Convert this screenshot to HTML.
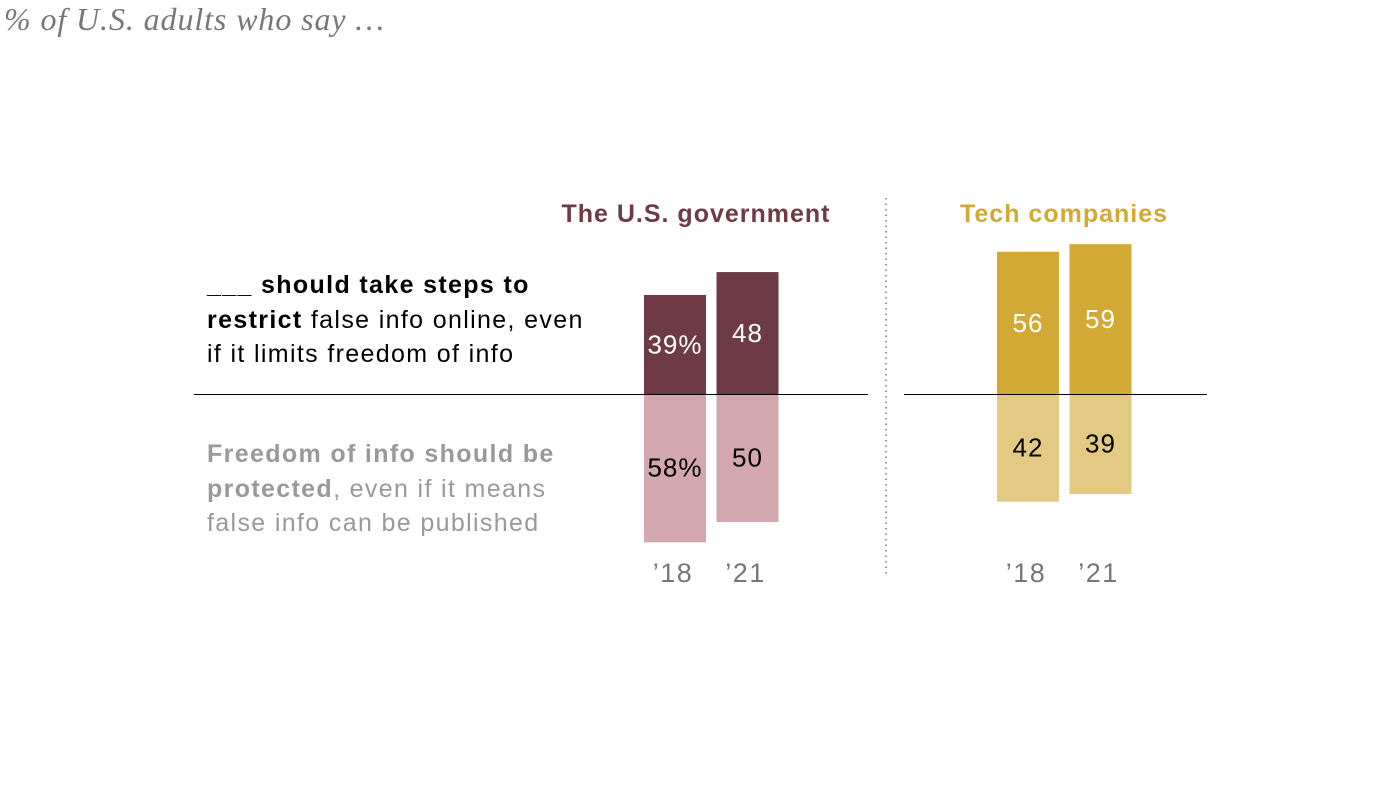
<!DOCTYPE html>
<html><head><meta charset="utf-8"><style>
body{margin:0;width:1400px;height:789px;background:#fff;overflow:hidden;position:relative;font-family:"Liberation Sans",sans-serif}
.t{position:absolute;white-space:nowrap}
</style></head><body>
<div class="t" style="left:4px;top:1px;font-family:'Liberation Serif',serif;font-style:italic;font-size:32px;letter-spacing:0.9px;color:#777">% of U.S. adults who say …</div>
<div class="t" style="left:207px;top:268px;font-size:25px;letter-spacing:1.35px;line-height:34.5px;color:#000"><b>___ should take steps to<br>restrict</b> false info online, even<br>if it limits freedom of info</div>
<div class="t" style="left:207px;top:437px;font-size:25px;letter-spacing:1.35px;line-height:34.5px;color:#999"><b>Freedom of info should be<br>protected</b>, even if it means<br>false info can be published</div>
<svg id="c" width="1400" height="789" style="position:absolute;left:0;top:0"></svg>
<script>
const groups=["The U.S. government","Tech companies"];
const years=["’18","’21"];
const restrictVals=[[39,48],[56,59]];
const freedomVals=[[58,50],[42,39]];
const restrictLabels=[["39%","48"],["56","59"]];
const freedomLabels=[["58%","50"],["42","39"]];
const ns="http://www.w3.org/2000/svg",svg=document.getElementById('c');
const base=394,k=2.54,bw=62;
const groupX=[644,997],gap=72.5;
const titleX=[696,1064];
const topC=["#6e3a46","#d2a934"],botC=["#d2a8ae","#e3ca82"],titleC=["#6e3a46","#d2a934"];
const y=v=>v*k;
function mk(t,a){const e=document.createElementNS(ns,t);for(const x in a)e.setAttribute(x,a[x]);svg.appendChild(e);return e;}
let l=mk('line',{x1:194,x2:868,y1:394.5,y2:394.5,stroke:'#000','stroke-width':1});


l=mk('line',{x1:904,x2:1207,y1:394.5,y2:394.5,stroke:'#000','stroke-width':1});


l=mk('line',{x1:886,x2:886,y1:198,y2:574,stroke:'#999','stroke-width':2,'stroke-dasharray':'1.5 4'});


groups.forEach((g,gi)=>{
  const tt=mk('text',{x:titleX[gi],y:222,'text-anchor':'middle','font-size':25,'font-weight':'bold','letter-spacing':1,fill:titleC[gi]});
  tt.textContent=g;
  
  
  years.forEach((yr,i)=>{
    const x=groupX[gi]+i*gap,rv=restrictVals[gi][i],fv=freedomVals[gi][i];
    let r=mk('rect',{x:x,y:base-y(rv),width:bw,height:y(rv),fill:topC[gi]});
    
    
    r=mk('rect',{x:x,y:base+1,width:bw,height:y(fv),fill:botC[gi]});
    
    
    let t=mk('text',{x:x+bw/2,y:base-y(rv)/2+9,'text-anchor':'middle','font-size':26,'letter-spacing':1,fill:'#fff'});
    t.textContent=restrictLabels[gi][i];
    
    
    t=mk('text',{x:x+bw/2,y:base+y(fv)/2+9,'text-anchor':'middle','font-size':26,'letter-spacing':1,fill:'#000'});
    t.textContent=freedomLabels[gi][i];
    
    
    t=mk('text',{x:x+bw/2-2,y:582,'text-anchor':'middle','font-size':27,'letter-spacing':1.5,fill:'#777'});
    t.textContent=yr;
    
    
  });
});
</script>
</body></html>
